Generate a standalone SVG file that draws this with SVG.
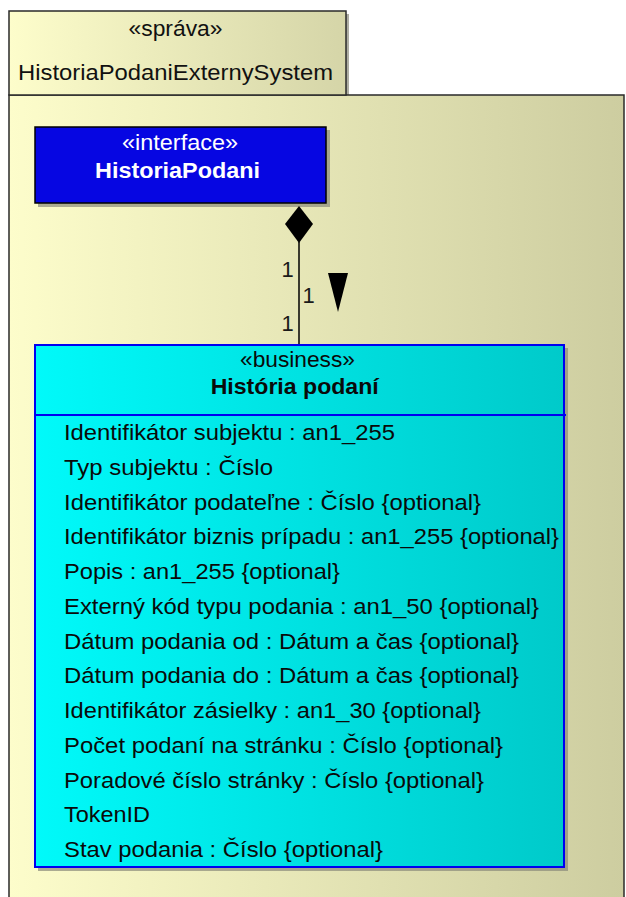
<svg xmlns="http://www.w3.org/2000/svg" width="626" height="897" viewBox="0 0 626 897">
  <defs>
    <linearGradient id="pkgGrad" x1="0" y1="0" x2="1" y2="0">
      <stop offset="0" stop-color="#FDFDCB"/>
      <stop offset="1" stop-color="#CDCDA0"/>
    </linearGradient>
    <linearGradient id="tabGrad" x1="0" y1="0" x2="1" y2="0">
      <stop offset="0" stop-color="#FDFDCB"/>
      <stop offset="1" stop-color="#D5D5A8"/>
    </linearGradient>
    <linearGradient id="clsGrad" x1="0" y1="0" x2="1" y2="0">
      <stop offset="0" stop-color="#00FAFA"/>
      <stop offset="1" stop-color="#00CACA"/>
    </linearGradient>
    <style>
      text { font-family: "Liberation Sans", Arial, sans-serif; font-size: 22px; }
      .pkg { stroke: #2a2a2a; stroke-width: 1.5; }
      .shadow { fill: #8a8a7a; opacity: 0.7; }
      .attr { fill: #0a0a0a; }
      .mult { fill: #1a1a1a; font-size: 22px; }
    </style>
  </defs>

  <g id="package">
    <rect class="shadow" x="12" y="14" width="337" height="82"/>
    <rect x="9" y="95" width="615" height="815" fill="url(#pkgGrad)" class="pkg"/>
    <rect x="9" y="11" width="337" height="84" fill="url(#tabGrad)" class="pkg"/>
    <text x="175.5" y="36" text-anchor="middle" textLength="94" lengthAdjust="spacingAndGlyphs" fill="#111">«správa»</text>
    <text x="175.5" y="80" text-anchor="middle" textLength="315" lengthAdjust="spacingAndGlyphs" fill="#111">HistoriaPodaniExternySystem</text>
  </g>

  <g id="HistoriaPodani">
    <rect class="shadow" x="38" y="130" width="292" height="77"/>
    <rect x="35" y="127" width="291" height="76" fill="#0606E2" stroke="#000" stroke-width="1.5"/>
    <text x="180" y="150" text-anchor="middle" textLength="116" lengthAdjust="spacingAndGlyphs" fill="#FFFFFF">«interface»</text>
    <text x="177.5" y="178" text-anchor="middle" textLength="165" lengthAdjust="spacingAndGlyphs" fill="#FFFFFF" font-weight="bold">HistoriaPodani</text>
  </g>

  <g id="connectors">
    <line x1="299" y1="242" x2="299" y2="345" stroke="#000" stroke-width="1.5"/>
    <polygon points="299,206 313,224 299,243 285,224" fill="#000"/>
    <polygon points="328,273 348,273 338,312" fill="#000"/>
    <text class="mult" x="281.5" y="277">1</text>
    <text class="mult" x="302.5" y="303">1</text>
    <text class="mult" x="281.5" y="331">1</text>
  </g>

  <g id="HistoriaPodaniClass">
    <rect class="shadow" x="38" y="348" width="530" height="523"/>
    <rect x="35" y="345" width="529" height="522" fill="url(#clsGrad)" stroke="#0000F0" stroke-width="2"/>
    <line x1="35" y1="415" x2="566" y2="415" stroke="#0000F0" stroke-width="2"/>
    <text x="297.5" y="366.5" text-anchor="middle" textLength="115" lengthAdjust="spacingAndGlyphs" fill="#0a0a0a">«business»</text>
    <text x="294.7" y="394" text-anchor="middle" textLength="168" lengthAdjust="spacingAndGlyphs" fill="#0a0a0a" font-weight="bold">História podaní</text>
    <text class="attr" x="64" y="440" textLength="331" lengthAdjust="spacingAndGlyphs">Identifikátor subjektu : an1_255</text>
    <text class="attr" x="64" y="474.8" textLength="209" lengthAdjust="spacingAndGlyphs">Typ subjektu : Číslo</text>
    <text class="attr" x="64" y="509.5" textLength="417" lengthAdjust="spacingAndGlyphs">Identifikátor podateľne : Číslo {optional}</text>
    <text class="attr" x="64" y="544.3" textLength="495" lengthAdjust="spacingAndGlyphs">Identifikátor biznis prípadu : an1_255 {optional}</text>
    <text class="attr" x="64" y="579" textLength="276" lengthAdjust="spacingAndGlyphs">Popis : an1_255 {optional}</text>
    <text class="attr" x="64" y="613.8" textLength="475" lengthAdjust="spacingAndGlyphs">Externý kód typu podania : an1_50 {optional}</text>
    <text class="attr" x="64" y="648.5" textLength="455" lengthAdjust="spacingAndGlyphs">Dátum podania od : Dátum a čas {optional}</text>
    <text class="attr" x="64" y="683.3" textLength="455" lengthAdjust="spacingAndGlyphs">Dátum podania do : Dátum a čas {optional}</text>
    <text class="attr" x="64" y="718" textLength="417" lengthAdjust="spacingAndGlyphs">Identifikátor zásielky : an1_30 {optional}</text>
    <text class="attr" x="64" y="752.8" textLength="439" lengthAdjust="spacingAndGlyphs">Počet podaní na stránku : Číslo {optional}</text>
    <text class="attr" x="64" y="787.5" textLength="420" lengthAdjust="spacingAndGlyphs">Poradové číslo stránky : Číslo {optional}</text>
    <text class="attr" x="64" y="822.3" textLength="86" lengthAdjust="spacingAndGlyphs">TokenID</text>
    <text class="attr" x="64" y="857" textLength="319" lengthAdjust="spacingAndGlyphs">Stav podania : Číslo {optional}</text>
  </g>
</svg>
